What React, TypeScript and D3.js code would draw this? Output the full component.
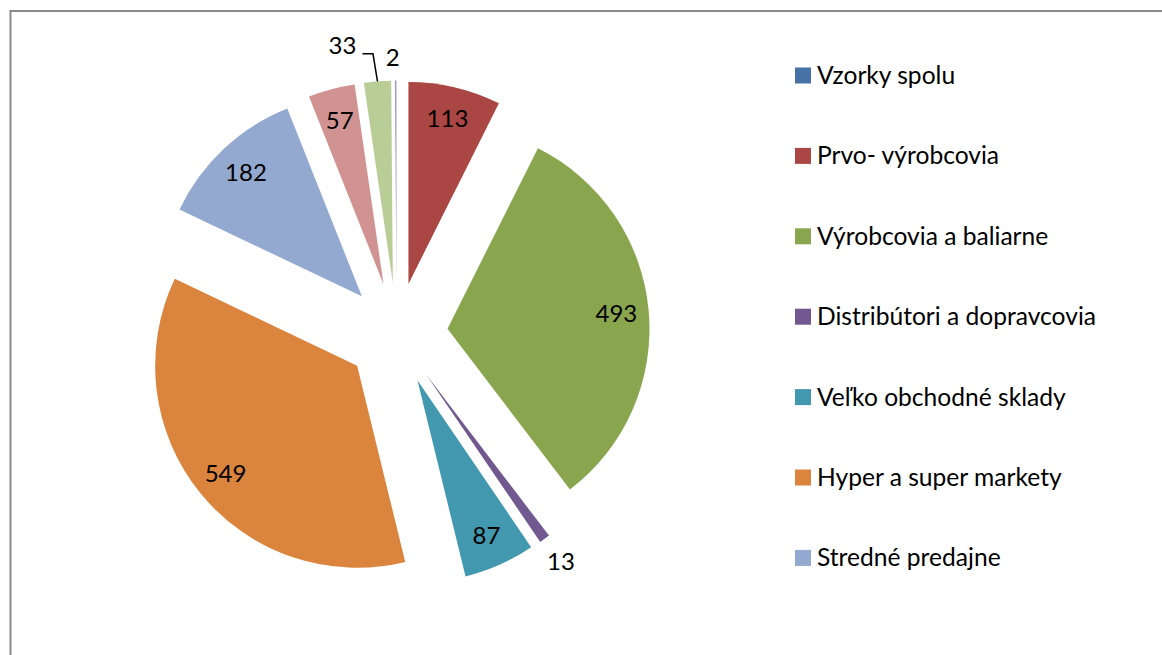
import React, { useEffect, useRef } from "react";
import * as d3 from "d3";

// categories (the legend in the source only shows the first seven)
const categories = [
  "Vzorky spolu",
  "Prvo- výrobcovia",
  "Výrobcovia a baliarne",
  "Distribútori a dopravcovia",
  "Veľko obchodné sklady",
  "Hyper a super markety",
  "Stredné predajne",
  "",
  "",
  "",
];
const values = [0, 113, 493, 13, 87, 549, 182, 57, 33, 2];
const colors = [
  "#4572A7",
  "#AA4643",
  "#89A54E",
  "#71588F",
  "#4198AF",
  "#DB843D",
  "#93A9CF",
  "#D19392",
  "#B9CD96",
  "#A99BBD",
];
const legendCount = 7;

const W = 1162;
const H = 655;

function App() {
  const svgRef = useRef<SVGSVGElement | null>(null);

  useEffect(() => {
    const svg = d3.select(svgRef.current);
    svg.selectAll("*").remove();

    const cx = 396.7;
    const cy = 333.6;
    const R = 202;
    const explode = 51;
    const font = "Lato, 'Open Sans', sans-serif";

    // chart area border (cut off on the right and bottom)
    svg
      .append("rect")
      .attr("x", 10.5)
      .attr("y", 11)
      .attr("width", W + 20)
      .attr("height", H + 20)
      .attr("fill", "none")
      .attr("stroke", "#898989")
      .attr("stroke-width", 2);

    const data = values.map((v, i) => ({ v, i }));
    const pie = d3
      .pie<{ v: number; i: number }>()
      .sort(null)
      .value((d) => d.v)
      .startAngle(0)
      .endAngle(Math.PI * 2);
    const arcs = pie(data);
    const total = d3.sum(values);

    const arc = d3
      .arc<d3.PieArcDatum<{ v: number; i: number }>>()
      .innerRadius(0)
      .outerRadius(R);

    const g = svg.append("g").attr("transform", `translate(${cx},${cy})`);

    const slices = g
      .selectAll("g.slice")
      .data(arcs.filter((a) => a.data.v > 0))
      .enter()
      .append("g")
      .attr("class", "slice")
      .attr("transform", (a) => {
        const m = (a.startAngle + a.endAngle) / 2;
        return `translate(${Math.sin(m) * explode},${-Math.cos(m) * explode})`;
      });

    slices
      .append("path")
      .attr("d", (a) => arc(a) as string)
      .attr("fill", (a) => colors[a.data.i]);

    // label tweaks for small slices, relative to the outer edge midpoint
    const nudge: Record<number, { dx: number; dy: number; leader?: boolean }> = {
      33: { dx: -35, dy: -36, leader: true },
      2: { dx: -3, dy: -23 },
    };

    slices.each(function (a) {
      const sel = d3.select(this);
      const m = (a.startAngle + a.endAngle) / 2;
      const ux = Math.sin(m);
      const uy = -Math.cos(m);
      const share = a.data.v / total;
      let lx: number;
      let ly: number;
      const n = nudge[a.data.v];
      if (n) {
        const ox = ux * R;
        const oy = uy * R;
        lx = ox + n.dx;
        ly = oy + n.dy;
        if (n.leader) {
          const ex = ox - 4.5;
          const ey = oy - 27.5;
          sel
            .append("path")
            .attr("d", `M${ox},${oy}L${ex},${ey}L${ex - 10.5},${ey}`)
            .attr("fill", "none")
            .attr("stroke", "#000")
            .attr("stroke-width", 1.5);
        }
      } else if (share < 0.025) {
        lx = ux * (R + 28);
        ly = uy * (R + 28);
      } else {
        lx = ux * R * 0.84;
        ly = uy * R * 0.84;
      }
      sel
        .append("text")
        .attr("x", lx)
        .attr("y", ly)
        .attr("dy", "0.36em")
        .attr("text-anchor", "middle")
        .style("font-family", font)
        .style("font-size", "24px")
        .attr("fill", "#000")
        .text(a.data.v);
    });

    // legend
    const legend = svg.append("g");
    const rowY = (i: number) => 75.5 + i * 80.4;
    categories.slice(0, legendCount).forEach((c, i) => {
      legend
        .append("rect")
        .attr("x", 795)
        .attr("y", rowY(i) - 8)
        .attr("width", 16)
        .attr("height", 16)
        .attr("fill", colors[i]);
      legend
        .append("text")
        .attr("x", 817)
        .attr("y", rowY(i) + 8.5)
        .style("font-family", font)
        .style("font-size", "24.6px")
        .attr("fill", "#000")
        .text(c);
    });
  }, []);

  return (
    <svg
      ref={svgRef}
      width={W}
      height={H}
      style={{ position: "absolute", left: 0, top: 0, background: "#fff" }}
    />
  );
}

export default App;
